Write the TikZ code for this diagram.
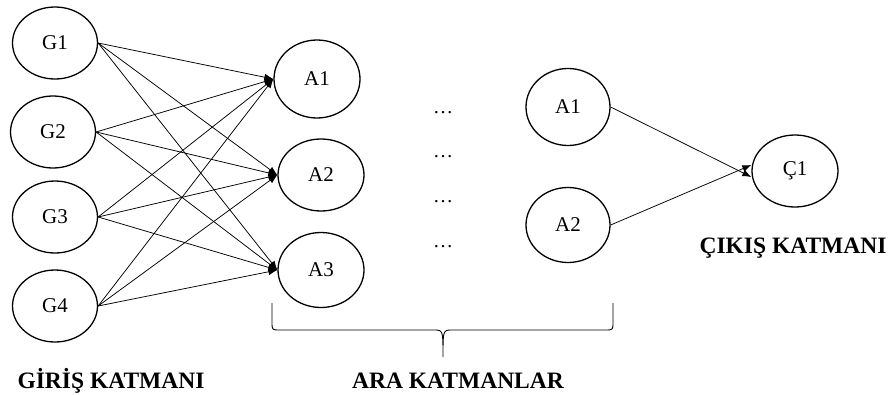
\documentclass[tikz,border=0pt]{standalone}
\usepackage{fontspec}
\setmainfont{Liberation Serif}
\usetikzlibrary{arrows.meta,shapes.geometric}
\begin{document}
\begin{tikzpicture}[x=1pt,y=-1pt,
  neuron/.style={draw,ellipse,line width=1.3pt,minimum width=#1,minimum height=72pt,inner sep=0pt,
    font=\fontsize{21}{24}\selectfont},
  neuron/.default=85pt,
  link/.style={line width=0.75pt,-{Latex[length=9pt,width=7pt]}},
  layer/.style={font=\fontsize{23.5}{27}\selectfont\bfseries},
  gap/.style={font=\fontsize{20}{23}\selectfont}]
\useasboundingbox (0,0) rectangle (895,394);

% input layer
\node[neuron] (g1) at (55,43) {G1};
\node[neuron] (g2) at (53,132) {G2};
\node[neuron] (g3) at (55,217) {G3};
\node[neuron] (g4) at (55,306) {G4};

% first hidden layer
\node[neuron=86pt,minimum height=78pt] (a1) at (317,79) {A1};
\node[neuron=86pt] (a2) at (321,175) {A2};
\node[neuron=86pt,minimum height=75pt] (a3) at (321,270) {A3};

% elided hidden layers
\node[gap] (d1) at (443,113) {\dots};
\node[gap] (d2) at (443,157) {\dots};
\node[gap] (d3) at (443,202) {\dots};
\node[gap] (d4) at (443,247) {\dots};

% last hidden layer
\node[neuron=84pt,minimum height=77pt] (b1) at (568,107) {A1};
\node[neuron=84pt,minimum height=75pt] (b2) at (568,225) {A2};

% output layer
\node[neuron=86pt] (c1) at (795,171) {Ç1};

% full connections input -> hidden
\foreach \g in {g1,g2,g3,g4}
  \foreach \a in {a1,a2,a3}
    \draw[link] (\g.east) -- (\a.west);

% hidden -> output
\coordinate (c1up) at ([yshift=-6pt]c1.west);
\coordinate (c1dn) at ([yshift=6pt]c1.west);
\draw[link] (b1.east) -- (c1up);
\draw[link] (b2.east) -- (c1dn);

% brace under the hidden layers
\coordinate (brl) at (272,303);
\coordinate (brr) at (613,303);
\coordinate (brtip) at (443,357);
\draw[line width=0.9pt]
  (brl) -- (272,322) .. controls (272,330) .. (280,330)
  -- (434,330) .. controls (443,330) .. (443,357)
  .. controls (443,330) .. (452,330)
  -- (605,330) .. controls (613,330) .. (613,322) -- (brr);

% layer captions
\node[layer] (lin) at (111,381) {GİRİŞ KATMANI};
\node[layer] (lhid) at (458,381) {ARA KATMANLAR};
\node[layer] (lout) at (793,248) {ÇIKIŞ KATMANI};
\end{tikzpicture}
\end{document}
